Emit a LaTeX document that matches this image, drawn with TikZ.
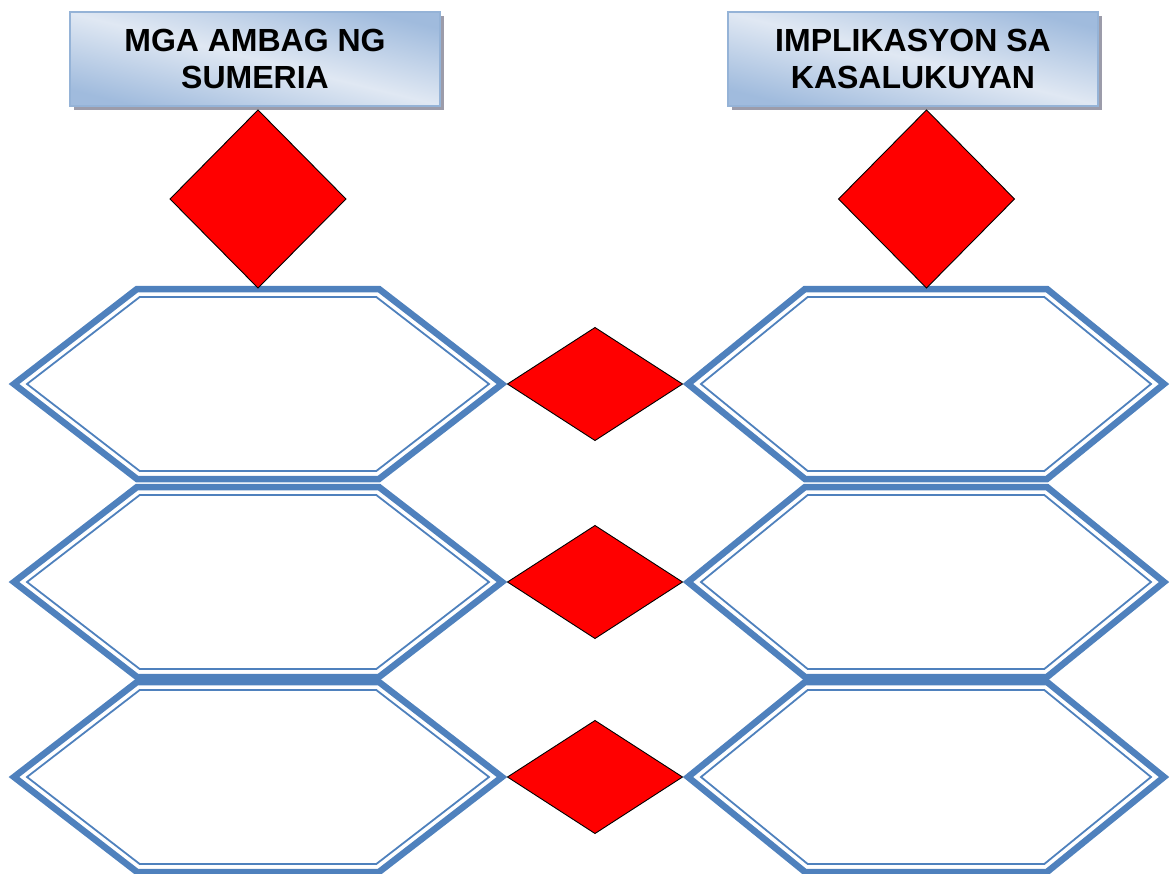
\documentclass[tikz,border=0pt]{standalone}
\usepackage{fontspec}
\setmainfont{Liberation Sans}
\usetikzlibrary{shapes.geometric,shadows}
\definecolor{hexblue}{RGB}{79,129,189}
\definecolor{hdredge}{RGB}{149,179,215}
\definecolor{hdrlight}{RGB}{224,232,243}
\definecolor{hdrdark}{RGB}{160,187,221}
\tikzset{
  hexouter/.style={draw=hexblue, line width=6.5pt, line join=miter},
  hexinner/.style={draw=hexblue, line width=1.8pt, line join=miter},
  reddia/.style={shape=diamond, draw=black, line width=0.9pt, fill=red, inner sep=0pt, outer sep=0pt},
  header/.style={rectangle, draw=hdredge, line width=1.2pt,
    top color=hdrdark, bottom color=hdrdark, middle color=hdrlight, shading angle=-14,
    minimum width=370pt, minimum height=94pt, align=center,
    font=\fontsize{32}{37}\selectfont\bfseries,
    drop shadow={shadow xshift=4pt, shadow yshift=-4pt, fill=gray!70!blue!40!black, opacity=0.45}}
}
% cx cy W w h
\newcommand\myhex[5]{%
  \draw[hexouter] ({#1-#3},#2) -- ({#1-#4},{#2-#5}) -- ({#1+#4},{#2-#5}) -- ({#1+#3},#2) -- ({#1+#4},{#2+#5}) -- ({#1-#4},{#2+#5}) -- cycle;
  \draw[hexinner] ({#1-#3+13},#2) -- ({#1-#4+2.7},{#2-#5+8}) -- ({#1+#4-2.7},{#2-#5+8}) -- ({#1+#3-13},#2) -- ({#1+#4-2.7},{#2+#5-8}) -- ({#1-#4+2.7},{#2+#5-8}) -- cycle;
}
\begin{document}
\begin{tikzpicture}[x=1pt,y=-1pt]
\useasboundingbox (0,0) rectangle (1170,873);
% hexagons left column
\myhex{258}{384}{244}{121}{95}
\myhex{258}{582}{244}{121}{95}
\myhex{258}{777}{244}{121}{95}
% hexagons right column
\myhex{926}{384}{238}{121}{95}
\myhex{926}{582}{238}{121}{95}
\myhex{926}{777}{238}{121}{95}
% header boxes
\node[header] (h1) at (255,59) {MGA AMBAG NG\\SUMERIA};
\node[header] (h2) at (913,59) {IMPLIKASYON SA\\KASALUKUYAN};
% top diamonds
\node[reddia, minimum width=176pt, minimum height=178pt] (t1) at (258,199) {};
\node[reddia, minimum width=176pt, minimum height=178pt] (t2) at (926.5,199) {};
% middle diamonds
\node[reddia, minimum width=175pt, minimum height=113pt] (m1) at (595,384) {};
\node[reddia, minimum width=175pt, minimum height=113pt] (m2) at (595,582) {};
\node[reddia, minimum width=175pt, minimum height=113pt] (m3) at (595,777) {};
\end{tikzpicture}
\end{document}
